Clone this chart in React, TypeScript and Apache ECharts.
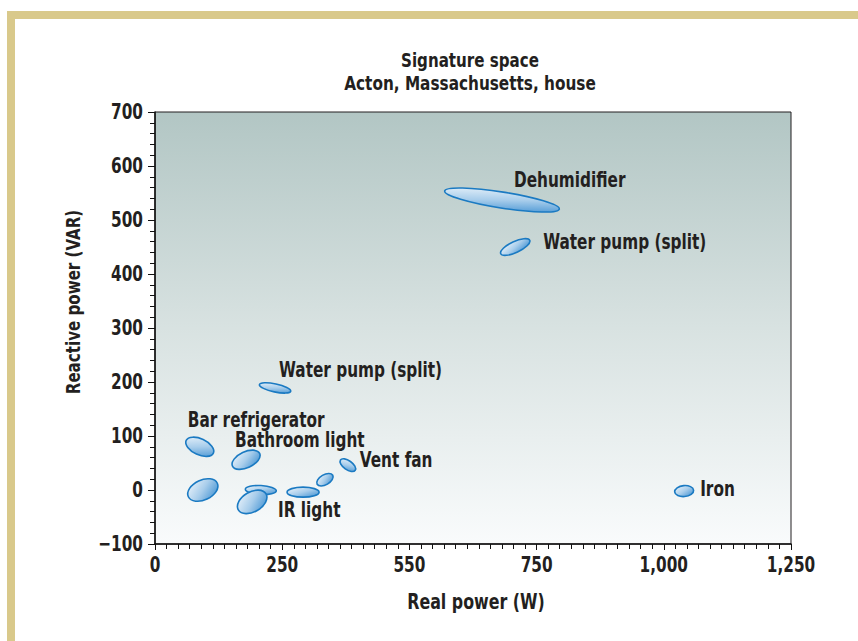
import { useEffect, useRef } from 'react';
import * as echarts from 'echarts';

// ---- data ----
const applianceLabels = [
  'Dehumidifier',
  'Water pump (split)',
  'Water pump (split)',
  'Bar refrigerator',
  'Bathroom light',
  'Vent fan',
  '',
  '',
  '',
  '',
  'IR light',
  'Iron',
];
const realPower = [682, 708, 236, 88, 179, 379, 334, 94, 208, 191, 291, 1040];
const reactivePower = [537, 450, 189, 80, 56, 46, 19, 0, 0, -22, -4, -2];
const xTickValues = [0, 250, 500, 750, 1000, 1250];
const xTickLabels = ['0', '250', '550', '750', '1,000', '1,250'];
const yTickValues = [-100, 0, 100, 200, 300, 400, 500, 600, 700];
const yTickLabels = ['\u2212100', '0', '100', '200', '300', '400', '500', '600', '700'];

// ---- styling (ellipse shapes in px, label offsets in px) ----
const ellipseShapes = [
  { rx: 58, ry: 8, rot: -9 },
  { rx: 16, ry: 5.5, rot: 25 },
  { rx: 16, ry: 4, rot: -12 },
  { rx: 15, ry: 8, rot: -25 },
  { rx: 15, ry: 8, rot: 25 },
  { rx: 9, ry: 4.5, rot: -35 },
  { rx: 9, ry: 5, rot: 30 },
  { rx: 16, ry: 10, rot: 25 },
  { rx: 15.5, ry: 4.5, rot: -3 },
  { rx: 16, ry: 10, rot: 30 },
  { rx: 16, ry: 5, rot: 0 },
  { rx: 9.5, ry: 5.5, rot: 5 },
];
const labelOffsets = [
  [12, -20], [28, -5], [4, -18], [-12, -27], [-11, -20], [12, -5],
  [0, 0], [0, 0], [0, 0], [0, 0], [-25, 18], [16, -2],
];

const FONT_FAMILY = '"DejaVu Sans Condensed", "Liberation Sans Narrow", Arial, sans-serif';
const TEXT_COLOR = '#231f20';
const SQUEEZE = 0.81;

export default function App() {
  const ref = useRef<HTMLDivElement>(null);

  useEffect(() => {
    if (!ref.current) return;
    const chart = echarts.init(ref.current, null, { renderer: 'svg' });

    const data = realPower.map((x, i) => [x, reactivePower[i]]);
    const xTickData = xTickValues.map((v) => [v, -100]);
    const yTickData = yTickValues.map((v) => [0, v]);

    const condensedText = (text: string, x: number, y: number, size: number, align: string, vAlign: string, extra: any = {}) => ({
      type: 'text',
      x,
      y,
      scaleX: SQUEEZE,
      ...extra,
      style: {
        text,
        font: `bold ${size}px ${FONT_FAMILY}`,
        fill: TEXT_COLOR,
        textAlign: align,
        textVerticalAlign: vAlign,
      },
    });

    const option: any = {
      animation: false,
      backgroundColor: '#ffffff',
      graphic: [
        { type: 'rect', shape: { x: 7, y: 11, width: 851, height: 8 }, style: { fill: '#d9c98b' } },
        { type: 'rect', shape: { x: 7, y: 11, width: 8, height: 630 }, style: { fill: '#d9c98b' } },
        condensedText('Signature space', 470, 60, 20, 'center', 'middle', { scaleX: 0.84 }),
        condensedText('Acton, Massachusetts, house', 470, 83, 20, 'center', 'middle', { scaleX: 0.85 }),
        condensedText('Reactive power (VAR)', 73, 302, 20, 'center', 'middle', { rotation: Math.PI / 2, scaleX: 0.84 }),
        condensedText('Real power (W)', 476, 602, 21, 'center', 'middle', { scaleX: 0.84 }),
      ],
      grid: {
        left: 155,
        right: 67,
        top: 112,
        bottom: 97,
        show: true,
        borderColor: '#231f20',
        borderWidth: 1,
        backgroundColor: new echarts.graphic.LinearGradient(0, 0, 0, 1, [
          { offset: 0, color: '#b2c6c4' },
          { offset: 0.5, color: '#d8e2e1' },
          { offset: 1, color: '#f9fbfc' },
        ]),
      },
      xAxis: {
        type: 'value',
        min: 0,
        max: 1250,
        interval: 250,
        axisLine: { show: true, onZero: false, lineStyle: { color: '#111', width: 1.5 } },
        axisTick: { show: true, length: 6, lineStyle: { color: '#111', width: 1 } },
        minorTick: { show: true, splitNumber: 11, length: 5, lineStyle: { color: '#111', width: 1 } },
        splitLine: { show: false },
        axisLabel: { show: false },
      },
      yAxis: {
        type: 'value',
        min: -100,
        max: 700,
        interval: 100,
        axisLine: { show: true, onZero: false, lineStyle: { color: '#111', width: 1.5 } },
        axisTick: { show: true, length: 7, lineStyle: { color: '#111', width: 1 } },
        minorTick: { show: true, splitNumber: 5, length: 5, lineStyle: { color: '#111', width: 1 } },
        splitLine: { show: false },
        axisLabel: { show: false },
      },
      series: [
        {
          type: 'custom',
          coordinateSystem: 'cartesian2d',
          data,
          renderItem: (params: any, api: any) => {
            const i = params.dataIndex;
            const c = api.coord([api.value(0), api.value(1)]);
            const s = ellipseShapes[i];
            const off = labelOffsets[i];
            const children: any[] = [
              {
                type: 'ellipse',
                x: c[0],
                y: c[1],
                rotation: (s.rot * Math.PI) / 180,
                shape: { cx: 0, cy: 0, rx: s.rx, ry: s.ry },
                style: {
                  fill: new echarts.graphic.LinearGradient(0, 0, 1, 1, [
                    { offset: 0, color: '#f1f7fc' },
                    { offset: 0.5, color: '#a8cdeb' },
                    { offset: 1, color: '#3a8dd0' },
                  ]),
                  stroke: '#1b7ac2',
                  lineWidth: 1.6,
                },
              },
            ];
            if (applianceLabels[i]) {
              children.push(
                condensedText(applianceLabels[i], c[0] + off[0], c[1] + off[1], 21, 'left', 'middle')
              );
            }
            return { type: 'group', children };
          },
        },
        {
          type: 'custom',
          coordinateSystem: 'cartesian2d',
          data: xTickData,
          clip: false,
          silent: true,
          renderItem: (params: any, api: any) => {
            const c = api.coord([api.value(0), api.value(1)]);
            return condensedText(xTickLabels[params.dataIndex], c[0], c[1] + 21, 21, 'center', 'middle');
          },
        },
        {
          type: 'custom',
          coordinateSystem: 'cartesian2d',
          data: yTickData,
          clip: false,
          silent: true,
          renderItem: (params: any, api: any) => {
            const c = api.coord([api.value(0), api.value(1)]);
            return condensedText(yTickLabels[params.dataIndex], c[0] - 12, c[1], 21, 'right', 'middle');
          },
        },
      ],
    };

    chart.setOption(option);
    return () => chart.dispose();
  }, []);

  return (
    <div
      ref={ref}
      style={{ position: 'fixed', left: 0, top: 0, width: 858, height: 641 }}
    />
  );
}
